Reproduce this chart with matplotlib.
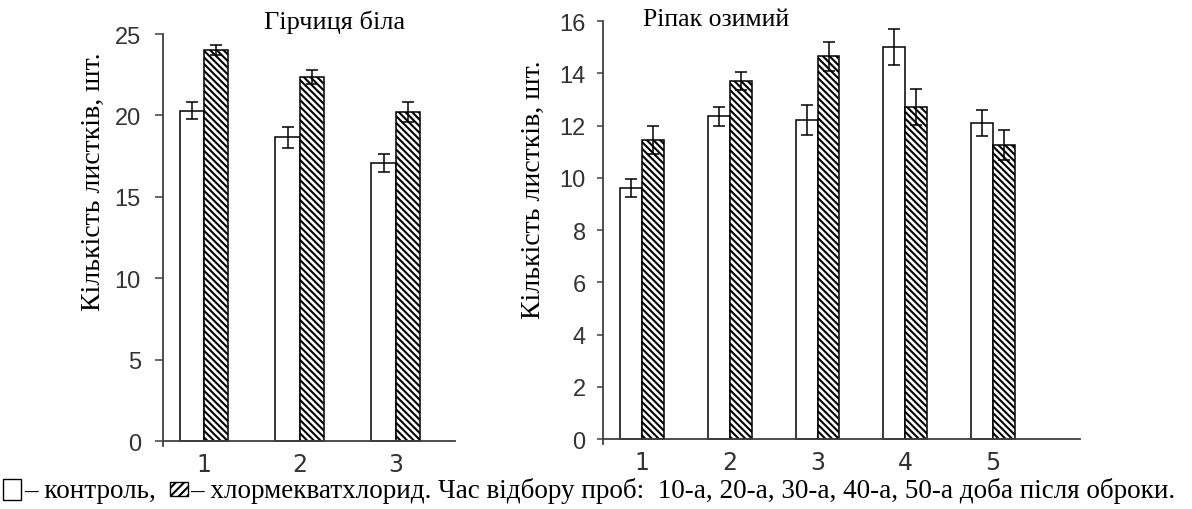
import matplotlib
matplotlib.use("Agg")
import matplotlib.pyplot as plt
from matplotlib.patches import Rectangle
import numpy as np

# leaf counts
days_left = [1, 2, 3]
mustard_ctrl = [20.3, 18.65, 17.1]
mustard_ctrl_err = [0.5, 0.65, 0.55]
mustard_ccc = [24.0, 22.35, 20.2]
mustard_ccc_err = [0.3, 0.45, 0.6]

days_right = [1, 2, 3, 4, 5]
rape_ctrl = [9.6, 12.35, 12.2, 15.0, 12.1]
rape_ctrl_err = [0.35, 0.35, 0.57, 0.68, 0.5]
rape_ccc = [11.45, 13.7, 14.65, 12.7, 11.25]
rape_ccc_err = [0.55, 0.35, 0.55, 0.69, 0.57]

plt.rcParams['hatch.linewidth'] = 1.5
axis_col = '#404040'
serif = ['Liberation Serif', 'DejaVu Serif']
sans = ['Liberation Sans', 'DejaVu Sans']

W, H = 1192, 510
fig = plt.figure(figsize=(W/100, H/100), dpi=100)

def px_axes(x0, x1, ytop, ybot):
    return fig.add_axes([x0/W, 1-ybot/H, (x1-x0)/W, (ybot-ytop)/H])

def draw(ax, days, ctrl, ctrl_err, ccc, ccc_err, w, xlim, ylim, yticks, tlen, tpad):
    x = np.array(days, dtype=float)
    ax.bar(x - w/2, ctrl, w, color='white', edgecolor='black', linewidth=1.1, zorder=2)
    ax.bar(x + w/2, ccc, w, color='white', edgecolor='black', hatch='\\\\\\\\\\',
           linewidth=1.1, zorder=2)
    ax.errorbar(x - w/2, ctrl, yerr=ctrl_err, fmt='none', ecolor='black',
                elinewidth=1.1, capsize=4, capthick=1.1, zorder=3)
    ax.errorbar(x + w/2, ccc, yerr=ccc_err, fmt='none', ecolor='black',
                elinewidth=1.1, capsize=4, capthick=1.1, zorder=3)
    ax.set_xlim(*xlim)
    ax.set_ylim(*ylim)
    ax.set_yticks(yticks)
    ax.set_xticks(days)
    ax.tick_params(axis='x', length=0, pad=8, labelsize=17, labelcolor='#333333')
    ax.tick_params(axis='y', direction='out', length=tlen, width=1.1, color=axis_col,
                   pad=tpad, labelsize=17, labelcolor='#333333')
    for lab in ax.get_xticklabels() + ax.get_yticklabels():
        lab.set_family(sans)
    for s in ['top', 'right']:
        ax.spines[s].set_visible(False)
    ax.spines['bottom'].set_position(('data', 0))
    for s in ['left', 'bottom']:
        ax.spines[s].set_color(axis_col)
        ax.spines[s].set_linewidth(1.3)
    ax.patch.set_alpha(0)

ax1 = px_axes(163, 455, 35, 447)
draw(ax1, days_left, mustard_ctrl, mustard_ctrl_err, mustard_ccc, mustard_ccc_err,
     0.255, (0.573, 3.615), (-0.3, 25), [0, 5, 10, 15, 20, 25], 6, 10)

ax2 = px_axes(603, 1080, 22, 445)
draw(ax2, days_right, rape_ctrl, rape_ctrl_err, rape_ccc, rape_ccc_err,
     0.25, (0.556, 5.99), (-0.19, 16), [0, 2, 4, 6, 8, 10, 12, 14, 16], 4.5, 8)

fig.text(335/W, 1-22/H, 'Гірчиця біла', family=serif, fontsize=19, ha='center', va='center')
fig.text(716/W, 1-20/H, 'Ріпак озимий', family=serif, fontsize=18.5, ha='center', va='center')
fig.text(93/W, 1-182/H, 'Кількість листків, шт.', family=serif, fontsize=20,
         rotation=90, ha='center', va='center')
fig.text(533/W, 1-190/H, 'Кількість листків, шт.', family=serif, fontsize=20,
         rotation=90, ha='center', va='center')

# legend line at the bottom
fig.patches.append(Rectangle((3/W, 1-501/H), 18/W, 21/H, transform=fig.transFigure,
                             facecolor='white', edgecolor='black', linewidth=1.0))
fig.text(24/W, 1-498/H, '– контроль,', family=serif, fontsize=19.5, ha='left', va='baseline')
fig.patches.append(Rectangle((170/W, 1-497/H), 18/W, 14/H, transform=fig.transFigure,
                             facecolor='white', edgecolor='black', hatch='////', linewidth=1.0))
fig.text(190/W, 1-498/H,
         '– хлормекватхлорид. Час відбору проб:  10-а, 20-а, 30-а, 40-а, 50-а доба після оброки.',
         family=serif, fontsize=19.5, ha='left', va='baseline')

fig.savefig('out.png', dpi=100)
